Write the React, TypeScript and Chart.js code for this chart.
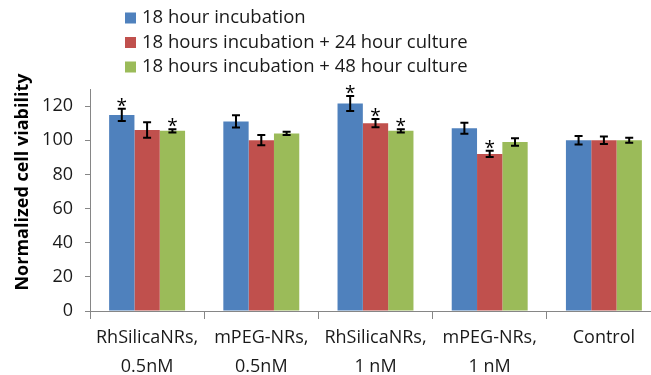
import React, { useEffect, useRef } from "react";
import { Chart, registerables } from "chart.js";

Chart.register(...registerables);

const categories: (string | string[])[] = [
  ["RhSilicaNRs,", "0.5nM"],
  ["mPEG-NRs,", "0.5nM"],
  ["RhSilicaNRs,", "1 nM"],
  ["mPEG-NRs,", "1 nM"],
  "Control",
];

const seriesNames = [
  "18 hour incubation",
  "18 hours incubation + 24 hour culture",
  "18 hours incubation + 48 hour culture",
];
const seriesColors = ["#4F81BD", "#C0504D", "#9BBB59"];

const incubation18 = [114.8, 111, 121.5, 107, 100];
const culture24 = [106, 100, 110, 92, 100];
const culture48 = [105.5, 104, 105.5, 99, 100];

const err18 = [3.6, 3.6, 4.4, 3.2, 2.5];
const err24 = [4.5, 3, 2.4, 1.8, 2.2];
const err48 = [0.9, 0.9, 0.9, 2.2, 1.5];

const sig18 = [true, false, true, false, false];
const sig24 = [false, false, true, true, false];
const sig48 = [true, false, true, false, false];

const yTickValues = [0, 20, 40, 60, 80, 100, 120];
const yMin = 0;
const yMax = 130;
const yTitle = "Normalized cell viability";

const FONT = "'Open Sans', 'DejaVu Sans', sans-serif";
const AXIS_GRAY = "#868686";
const TEXT = "#1a1a1a";

const errorBarPlugin = {
  id: "errorBars",
  afterDatasetsDraw(chart: any) {
    const ctx = chart.ctx;
    const yScale = chart.scales.y;
    const errs = [err18, err24, err48];
    const sigs = [sig18, sig24, sig48];
    ctx.save();
    chart.data.datasets.forEach((ds: any, di: number) => {
      const meta = chart.getDatasetMeta(di);
      meta.data.forEach((bar: any, i: number) => {
        const v = ds.data[i];
        const e = errs[di][i];
        const x = bar.x;
        const yTop = yScale.getPixelForValue(v + e);
        const yBot = yScale.getPixelForValue(v - e);
        ctx.strokeStyle = "#000";
        ctx.lineWidth = 2;
        ctx.beginPath();
        ctx.moveTo(x, yTop);
        ctx.lineTo(x, yBot);
        ctx.moveTo(x - 4, yTop);
        ctx.lineTo(x + 4, yTop);
        ctx.moveTo(x - 4, yBot);
        ctx.lineTo(x + 4, yBot);
        ctx.stroke();
        if (sigs[di][i]) {
          ctx.fillStyle = "#000";
          ctx.font = `19px ${FONT}`;
          ctx.textAlign = "center";
          ctx.textBaseline = "alphabetic";
          ctx.fillText("*", x, yTop + 3);
        }
      });
    });
    ctx.restore();
  },
};

const stackedLegendPlugin = {
  id: "stackedLegend",
  afterDraw(chart: any) {
    const ctx = chart.ctx;
    ctx.save();
    ctx.font = `18.5px ${FONT}`;
    ctx.textBaseline = "middle";
    ctx.textAlign = "left";
    chart.data.datasets.forEach((ds: any, i: number) => {
      const cy = 18 + i * 24.5;
      ctx.fillStyle = ds.backgroundColor;
      ctx.fillRect(125, cy - 5.5, 11, 11);
      ctx.fillStyle = TEXT;
      ctx.fillText(ds.label, 142, cy);
    });
    // y-axis title
    ctx.save();
    ctx.translate(28, 182);
    ctx.rotate(-Math.PI / 2);
    ctx.font = `bold 18px ${FONT}`;
    ctx.fillStyle = "#000";
    ctx.textAlign = "center";
    ctx.textBaseline = "alphabetic";
    ctx.fillText(yTitle, 0, 0);
    ctx.restore();
    ctx.restore();
  },
};

export default function App() {
  const canvasRef = useRef<HTMLCanvasElement | null>(null);

  useEffect(() => {
    if (!canvasRef.current) return;
    const values = [incubation18, culture24, culture48];
    const chart = new Chart(canvasRef.current, {
      type: "bar",
      data: {
        labels: categories,
        datasets: values.map((vals, i) => ({
          label: seriesNames[i],
          data: vals,
          backgroundColor: seriesColors[i],
          borderWidth: 0,
          categoryPercentage: 0.665,
          barPercentage: 1,
        })),
      },
      options: {
        animation: false,
        responsive: false,
        maintainAspectRatio: false,
        layout: { padding: { top: 89, right: 19, left: 0, bottom: 0 } },
        plugins: {
          legend: { display: false },
          tooltip: { enabled: false },
        },
        scales: {
          x: {
            offset: true,
            grid: {
              offset: true,
              drawOnChartArea: false,
              drawTicks: true,
              tickLength: 8,
              color: AXIS_GRAY,
              lineWidth: 1,
            },
            border: { display: true, color: AXIS_GRAY, width: 1 },
            ticks: {
              color: TEXT,
              font: { family: FONT, size: 18, lineHeight: 1.62 },
              padding: 4,
              maxRotation: 0,
              autoSkip: false,
            },
            afterFit: (scale: any) => {
              scale.height = 64;
            },
          },
          y: {
            min: yMin,
            max: yMax,
            ticks: {
              color: TEXT,
              font: { family: FONT, size: 18 },
              padding: 12,
            },
            afterBuildTicks: (axis: any) => {
              axis.ticks = yTickValues.map((v) => ({ value: v }));
            },
            grid: {
              drawOnChartArea: false,
              drawTicks: true,
              tickLength: 5,
              color: AXIS_GRAY,
            },
            border: { display: true, color: AXIS_GRAY, width: 1 },
            title: { display: false, text: yTitle },
            afterFit: (scale: any) => {
              scale.width = 90;
            },
          },
        },
      },
      plugins: [errorBarPlugin, stackedLegendPlugin],
    });
    return () => chart.destroy();
  }, []);

  return (
    <div
      style={{
        position: "absolute",
        left: 0,
        top: 0,
        width: 651,
        height: 375,
        overflow: "hidden",
        background: "#fff",
      }}
    >
      <canvas
        ref={canvasRef}
        width={680}
        height={375}
        style={{ width: 680, height: 375, display: "block" }}
      />
    </div>
  );
}
